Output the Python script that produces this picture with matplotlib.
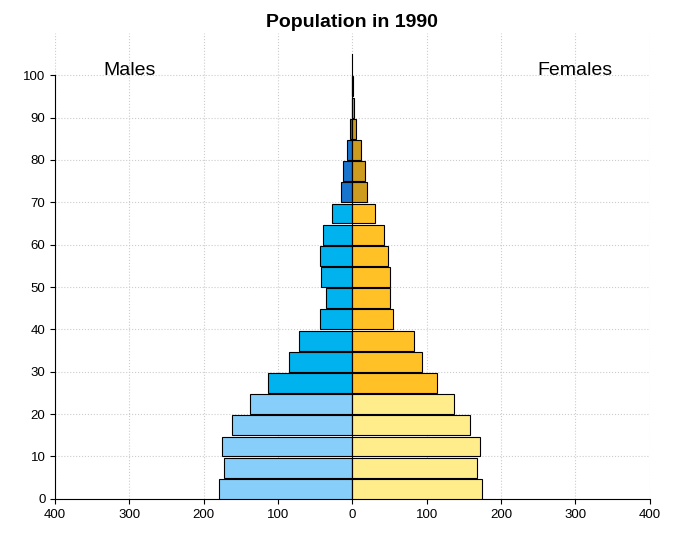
import numpy as np
import matplotlib
matplotlib.use('Agg')
import matplotlib.pyplot as plt

plt.rcParams['font.family'] = ['Liberation Sans', 'DejaVu Sans']

ages = np.arange(0, 100, 5)
males = [180, 173, 176, 162, 138, 113, 86, 72, 44, 35,
         42, 44, 40, 27, 15, 13, 7, 3, 1, 0.5]
females = [174, 168, 172, 158, 137, 114, 94, 83, 55, 50,
           51, 48, 43, 31, 19, 17, 11, 5, 2, 1]
xticks = [-400, -300, -200, -100, 0, 100, 200, 300, 400]
yticks = list(range(0, 101, 10))

def male_col(a):
    if a < 25: return '#87CEFA'
    if a < 70: return '#00B2EE'
    return '#1874CD'

def female_col(a):
    if a < 25: return '#FFEC8B'
    if a < 70: return '#FFC125'
    return '#CD9B1D'

fig = plt.figure(figsize=(6.81, 5.37), dpi=100)
ax = fig.add_axes([0.081, 0.071, 0.873, 0.868])

ax.barh(ages, [-m for m in males], height=4.7, align='edge',
        color=[male_col(a) for a in ages], edgecolor='black', linewidth=0.8, zorder=3)
ax.barh(ages, females, height=4.7, align='edge',
        color=[female_col(a) for a in ages], edgecolor='black', linewidth=0.8, zorder=3)
ax.plot([0, 0], [0, 105], color='black', linewidth=0.8, zorder=4)

ax.set_xlim(-400, 400)
ax.set_ylim(0, 110)
ax.set_xticks(xticks)
ax.set_xticklabels([str(abs(v)) for v in xticks])
ax.set_yticks(yticks)
ax.grid(True, linestyle=':', color='#CCCCCC', linewidth=0.8, zorder=0)
for s in ['top', 'right']:
    ax.spines[s].set_visible(False)
ax.spines['left'].set_bounds(0, 100)
ax.spines['bottom'].set_bounds(-400, 400)
ax.tick_params(labelsize=9.5)

ax.text(-300, 101, 'Males', fontsize=14, ha='center', va='center')
ax.text(300, 101, 'Females', fontsize=14, ha='center', va='center')
ax.set_title('Population in 1990', fontsize=14, fontweight='bold', pad=4)

fig.savefig('out.png', dpi=100)
